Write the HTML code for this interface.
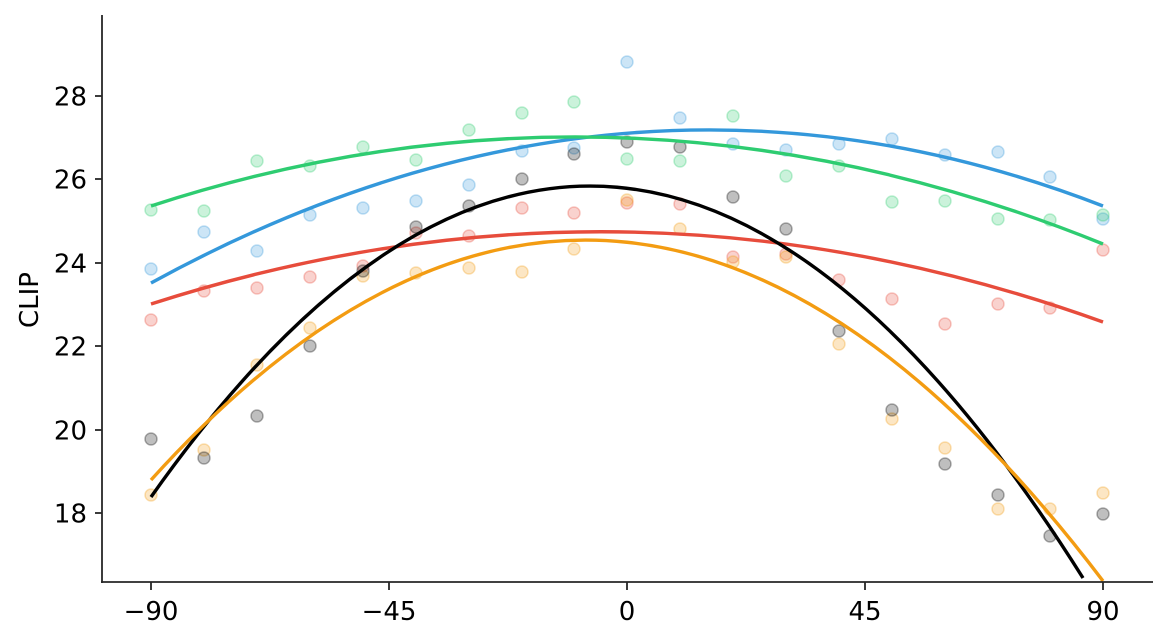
<!DOCTYPE html>
<html><head><style>
html,body{margin:0;padding:0;background:#fff;}
svg{display:block;}
.t{font-family:"DejaVu Sans",sans-serif;font-size:26px;}
</style></head><body>
<svg width="1166" height="641" viewBox="0 0 1166 641">
<defs><clipPath id="c"><rect x="102" y="15" width="1052" height="567"/></clipPath></defs>
<g clip-path="url(#c)" stroke-width="1.5">
<g fill="#3498db" stroke="#3498db" fill-opacity="0.25" stroke-opacity="0.3">
<circle cx="151" cy="269" r="6"/><circle cx="204" cy="232" r="6"/><circle cx="257" cy="251" r="6"/><circle cx="310" cy="215" r="6"/><circle cx="363" cy="208" r="6"/><circle cx="416" cy="201" r="6"/><circle cx="469" cy="185" r="6"/><circle cx="522" cy="151" r="6"/><circle cx="574" cy="148" r="6"/><circle cx="627" cy="62" r="6"/><circle cx="680" cy="118" r="6"/><circle cx="733" cy="144" r="6"/><circle cx="786" cy="150" r="6"/><circle cx="839" cy="144" r="6"/><circle cx="892" cy="139" r="6"/><circle cx="945" cy="155" r="6"/><circle cx="998" cy="152" r="6"/><circle cx="1050" cy="177" r="6"/><circle cx="1103" cy="219" r="6"/>
</g>
<g fill="#2ecc71" stroke="#2ecc71" fill-opacity="0.25" stroke-opacity="0.3">
<circle cx="151" cy="210" r="6"/><circle cx="204" cy="211" r="6"/><circle cx="257" cy="161" r="6"/><circle cx="310" cy="166" r="6"/><circle cx="363" cy="147" r="6"/><circle cx="416" cy="160" r="6"/><circle cx="469" cy="130" r="6"/><circle cx="522" cy="113" r="6"/><circle cx="574" cy="102" r="6"/><circle cx="627" cy="159" r="6"/><circle cx="680" cy="161" r="6"/><circle cx="733" cy="116" r="6"/><circle cx="786" cy="176" r="6"/><circle cx="839" cy="166" r="6"/><circle cx="892" cy="202" r="6"/><circle cx="945" cy="201" r="6"/><circle cx="998" cy="219" r="6"/><circle cx="1050" cy="220" r="6"/><circle cx="1103" cy="215" r="6"/>
</g>
<g fill="#e74c3c" stroke="#e74c3c" fill-opacity="0.25" stroke-opacity="0.3">
<circle cx="151" cy="320" r="6"/><circle cx="204" cy="291" r="6"/><circle cx="257" cy="288" r="6"/><circle cx="310" cy="277" r="6"/><circle cx="363" cy="266" r="6"/><circle cx="416" cy="233" r="6"/><circle cx="469" cy="236" r="6"/><circle cx="522" cy="208" r="6"/><circle cx="574" cy="213" r="6"/><circle cx="627" cy="203" r="6"/><circle cx="680" cy="204" r="6"/><circle cx="733" cy="257" r="6"/><circle cx="786" cy="254" r="6"/><circle cx="839" cy="280" r="6"/><circle cx="892" cy="299" r="6"/><circle cx="945" cy="324" r="6"/><circle cx="998" cy="304" r="6"/><circle cx="1050" cy="308" r="6"/><circle cx="1103" cy="250" r="6"/>
</g>
<g fill="#f39c12" stroke="#f39c12" fill-opacity="0.25" stroke-opacity="0.3">
<circle cx="151" cy="495" r="6"/><circle cx="204" cy="450" r="6"/><circle cx="257" cy="365" r="6"/><circle cx="310" cy="328" r="6"/><circle cx="363" cy="276" r="6"/><circle cx="416" cy="273" r="6"/><circle cx="469" cy="268" r="6"/><circle cx="522" cy="272" r="6"/><circle cx="574" cy="249" r="6"/><circle cx="627" cy="200" r="6"/><circle cx="680" cy="229" r="6"/><circle cx="733" cy="262" r="6"/><circle cx="786" cy="257" r="6"/><circle cx="839" cy="344" r="6"/><circle cx="892" cy="419" r="6"/><circle cx="945" cy="448" r="6"/><circle cx="998" cy="509" r="6"/><circle cx="1050" cy="509" r="6"/><circle cx="1103" cy="493" r="6"/>
</g>
<g fill="#000" stroke="#000" fill-opacity="0.25" stroke-opacity="0.3">
<circle cx="151" cy="439" r="6"/><circle cx="204" cy="458" r="6"/><circle cx="257" cy="416" r="6"/><circle cx="310" cy="346" r="6"/><circle cx="363" cy="271" r="6"/><circle cx="416" cy="227" r="6"/><circle cx="469" cy="206" r="6"/><circle cx="522" cy="179" r="6"/><circle cx="574" cy="154" r="6"/><circle cx="627" cy="142" r="6"/><circle cx="680" cy="147" r="6"/><circle cx="733" cy="197" r="6"/><circle cx="786" cy="229" r="6"/><circle cx="839" cy="331" r="6"/><circle cx="892" cy="410" r="6"/><circle cx="945" cy="464" r="6"/><circle cx="998" cy="495" r="6"/><circle cx="1050" cy="536" r="6"/><circle cx="1103" cy="514" r="6"/>
</g>
<g fill="none" stroke-width="3.4">
<path d="M151,283 Q627,22 1103,206" stroke="#3498db"/>
<path d="M151,206 Q627,51 1103,244" stroke="#2ecc71"/>
<path d="M151,304 Q627,151 1103,322" stroke="#e74c3c"/>
<path d="M151,497 Q617,-163 1083,578" stroke="#000"/>
<path d="M151,480 Q627,-46 1103,581" stroke="#f39c12"/>
</g>
</g>
<g stroke="#262626" stroke-width="1.8">
<line x1="102" y1="15" x2="102" y2="583"/>
<line x1="101" y1="582" x2="1153" y2="582"/>
<line x1="151" y1="582" x2="151" y2="590"/><line x1="389" y1="582" x2="389" y2="590"/><line x1="627" y1="582" x2="627" y2="590"/><line x1="865" y1="582" x2="865" y2="590"/><line x1="1103" y1="582" x2="1103" y2="590"/>
<line x1="95" y1="96" x2="102" y2="96"/><line x1="95" y1="179" x2="102" y2="179"/><line x1="95" y1="263" x2="102" y2="263"/><line x1="95" y1="346" x2="102" y2="346"/><line x1="95" y1="430" x2="102" y2="430"/><line x1="95" y1="513" x2="102" y2="513"/>
</g>
<g class="t" fill="#000">
<g text-anchor="middle">
<text x="151" y="620">−90</text><text x="389" y="620">−45</text><text x="627" y="620">0</text><text x="865" y="620">45</text><text x="1103" y="620">90</text>
</g>
<g text-anchor="end">
<text x="87" y="105.5">28</text><text x="87" y="188.5">26</text><text x="87" y="272.5">24</text><text x="87" y="355.5">22</text><text x="87" y="439.5">20</text><text x="87" y="522.5">18</text>
</g>
<text transform="translate(38,300) rotate(-90)" text-anchor="middle">CLIP</text>
</g>
</svg>
</body></html>
